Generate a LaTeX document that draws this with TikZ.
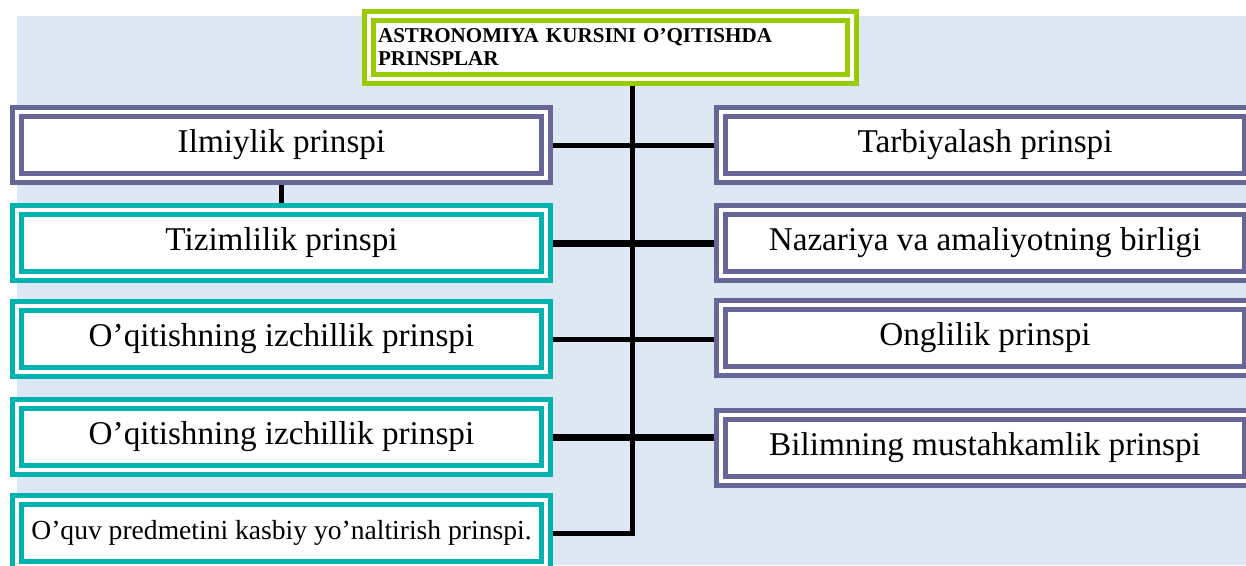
\documentclass[tikz,border=0pt]{standalone}
\usepackage{fontspec}
\setmainfont{Liberation Serif}
\usepackage{tikz}
\usetikzlibrary{
  positioning,
  calc,
}
\definecolor{frameViolet}{HTML}{666699}
\definecolor{frameTeal}{HTML}{00B3AE}
\definecolor{frameLime}{HTML}{99CC00}
\definecolor{pageBg}{HTML}{DDE8F4}
\tikzset{
  framebox/.style={
    rectangle, draw=#1, fill=white, line width=0.1cm,
    double=white, double distance=0.08cm, outer sep=0.14cm,
    inner sep=2pt, minimum width=10.58cm, minimum height=1.32cm,
    font=\fontsize{18.9}{22}\selectfont,
  },
  titlebox/.style={
    framebox=frameLime, minimum width=9.66cm, minimum height=1.26cm,
    inner sep=0.18cm, text width=9.3cm, align=left,
    font=\bfseries\fontsize{12}{13}\selectfont,
  },
  link/.style={
    line width=0.1cm, draw=black,
  },
  linkThick/.style={
    line width=0.14cm, draw=black,
  },
}

\begin{document}
\begin{tikzpicture}[x=0.02cm, y=-0.02cm]
\useasboundingbox (0,0) rectangle (1246,565);
\fill[pageBg] (17,16) rectangle (1246,565);

% title
\node[titlebox] (title) at (610.5,47.5)
  {ASTRONOMIYA KURSINI O’QITISHDA\\PRINSPLAR};

% left column
\node[framebox=frameViolet] (ilmiy)   at (281.5,145) {Ilmiylik prinspi};
\node[framebox=frameTeal]   (tizim)   at (281.5,243) {Tizimlilik prinspi};
\node[framebox=frameTeal]   (izchil)  at (281.5,339) {O’qitishning izchillik prinspi};
\node[framebox=frameTeal]   (izchilB) at (281.5,437) {O’qitishning izchillik prinspi};
\node[framebox=frameTeal, font=\fontsize{15.7}{18}\selectfont]
  (kasbiy) at (281.5,533) {O’quv predmetini kasbiy yo’naltirish prinspi.};

% right column
\node[framebox=frameViolet] (tarbiya) at (985,145) {Tarbiyalash prinspi};
\node[framebox=frameViolet] (nazar)   at (985,243) {Nazariya va amaliyotning birligi};
\node[framebox=frameViolet] (ongli)   at (985,338) {Onglilik prinspi};
\node[framebox=frameViolet] (bilim)   at (985,448) {Bilimning mustahkamlik prinspi};

% trunk
\coordinate (trunkX) at (632,300);
\draw[link] (title.south -| trunkX) -- (trunkX |- kasbiy.east) -- (kasbiy.east);
\draw[link] (ilmiy.south) -- (tizim.north);

% branches
\draw[link] (ilmiy.east) -- (tarbiya.west);
\draw[linkThick] (tizim.east) -- (nazar.west);
\draw[link] (izchil.east) -- (izchil.east -| ongli.west);
\draw[linkThick] (izchilB.east) -- (izchilB.east -| bilim.west);
\end{tikzpicture}
\end{document}
